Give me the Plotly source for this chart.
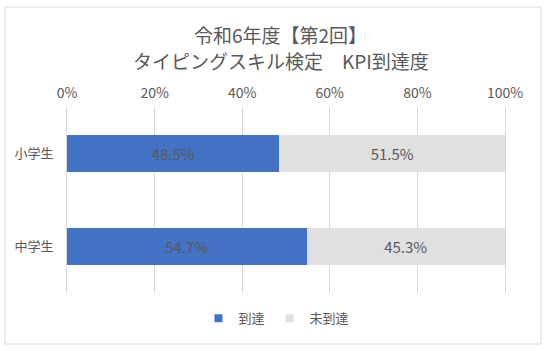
import plotly.graph_objects as go

categories = ["小学生", "中学生"]
reached = [48.5, 54.7]
not_reached = [51.5, 45.3]
series_names = ["到達", "未到達"]
tick_vals = [0, 20, 40, 60, 80, 100]
tick_text = ["0%", "20%", "40%", "60%", "80%", "100%"]
title_lines = ["令和6年度【第2回】", "タイピングスキル検定　KPI到達度"]

W, H = 553, 351
L, R, T, B = 67, 48, 107, 58
FONT = "Noto Sans CJK JP"
GRAY = "#595959"
COLORS = ["#4472C4", "#E0E0E0"]

fig = go.Figure()
for name, vals, col in zip(series_names, [reached, not_reached], COLORS):
    fig.add_trace(go.Bar(
        y=categories, x=vals, name=name, orientation="h",
        marker=dict(color=col, line=dict(width=0)),
        text=[f"{v:.1f}%" for v in vals], textposition="inside",
        insidetextanchor="middle", showlegend=False,
        textfont=dict(family=FONT, size=15, color=GRAY),
    ))
for name, col in zip(series_names, COLORS):
    fig.add_trace(go.Scatter(
        x=[None], y=[None], mode="markers", name=name,
        marker=dict(symbol="square", size=8, color=col),
    ))

pw = W - L - R
ph = H - T - B
fig.add_shape(type="rect", xref="paper", yref="paper",
              x0=(5 - L) / pw, x1=(W - 12 - L) / pw,
              y0=-(H - 7 - (H - B)) / ph, y1=1 + (T - 7) / ph,
              line=dict(color="#D9D9D9", width=1), fillcolor="rgba(0,0,0,0)", layer="below")

cx = 0.5 - (L - R) / 2 / pw
for line, py in zip(title_lines, [35, 60]):
    fig.add_annotation(text=line, xref="paper", yref="paper", showarrow=False,
                       x=cx + 0.01, xanchor="center",
                       y=1 + (T - py) / ph, yanchor="middle",
                       font=dict(size=19, color=GRAY, family=FONT))

fig.update_layout(
    width=W, height=H, barmode="stack", bargap=0.6,
    margin=dict(l=L, r=R, t=T, b=B),
    paper_bgcolor="white", plot_bgcolor="white",
    font=dict(family=FONT, color=GRAY),
    xaxis=dict(side="top", range=[0, 100], tickvals=tick_vals, ticktext=tick_text,
               showgrid=True, gridcolor="#D9D9D9", gridwidth=1, zeroline=False,
               tickfont=dict(size=14, color=GRAY, family=FONT),
               ticks="outside", ticklen=2, tickcolor="rgba(0,0,0,0)",
               showline=False, fixedrange=True),
    yaxis=dict(autorange="reversed", showgrid=False, zeroline=False,
               tickfont=dict(size=13, color=GRAY, family=FONT),
               ticks="outside", ticklen=10, tickcolor="rgba(0,0,0,0)",
               showline=True, linecolor="#D9D9D9", linewidth=1, mirror=True),
    legend=dict(orientation="h", x=cx, xanchor="center",
                y=-(322 - (H - B)) / ph + 0.02, yanchor="middle",
                font=dict(size=13, color=GRAY, family=FONT), traceorder="normal",
                itemwidth=30),
    showlegend=True,
)

fig.write_html("out.html")
